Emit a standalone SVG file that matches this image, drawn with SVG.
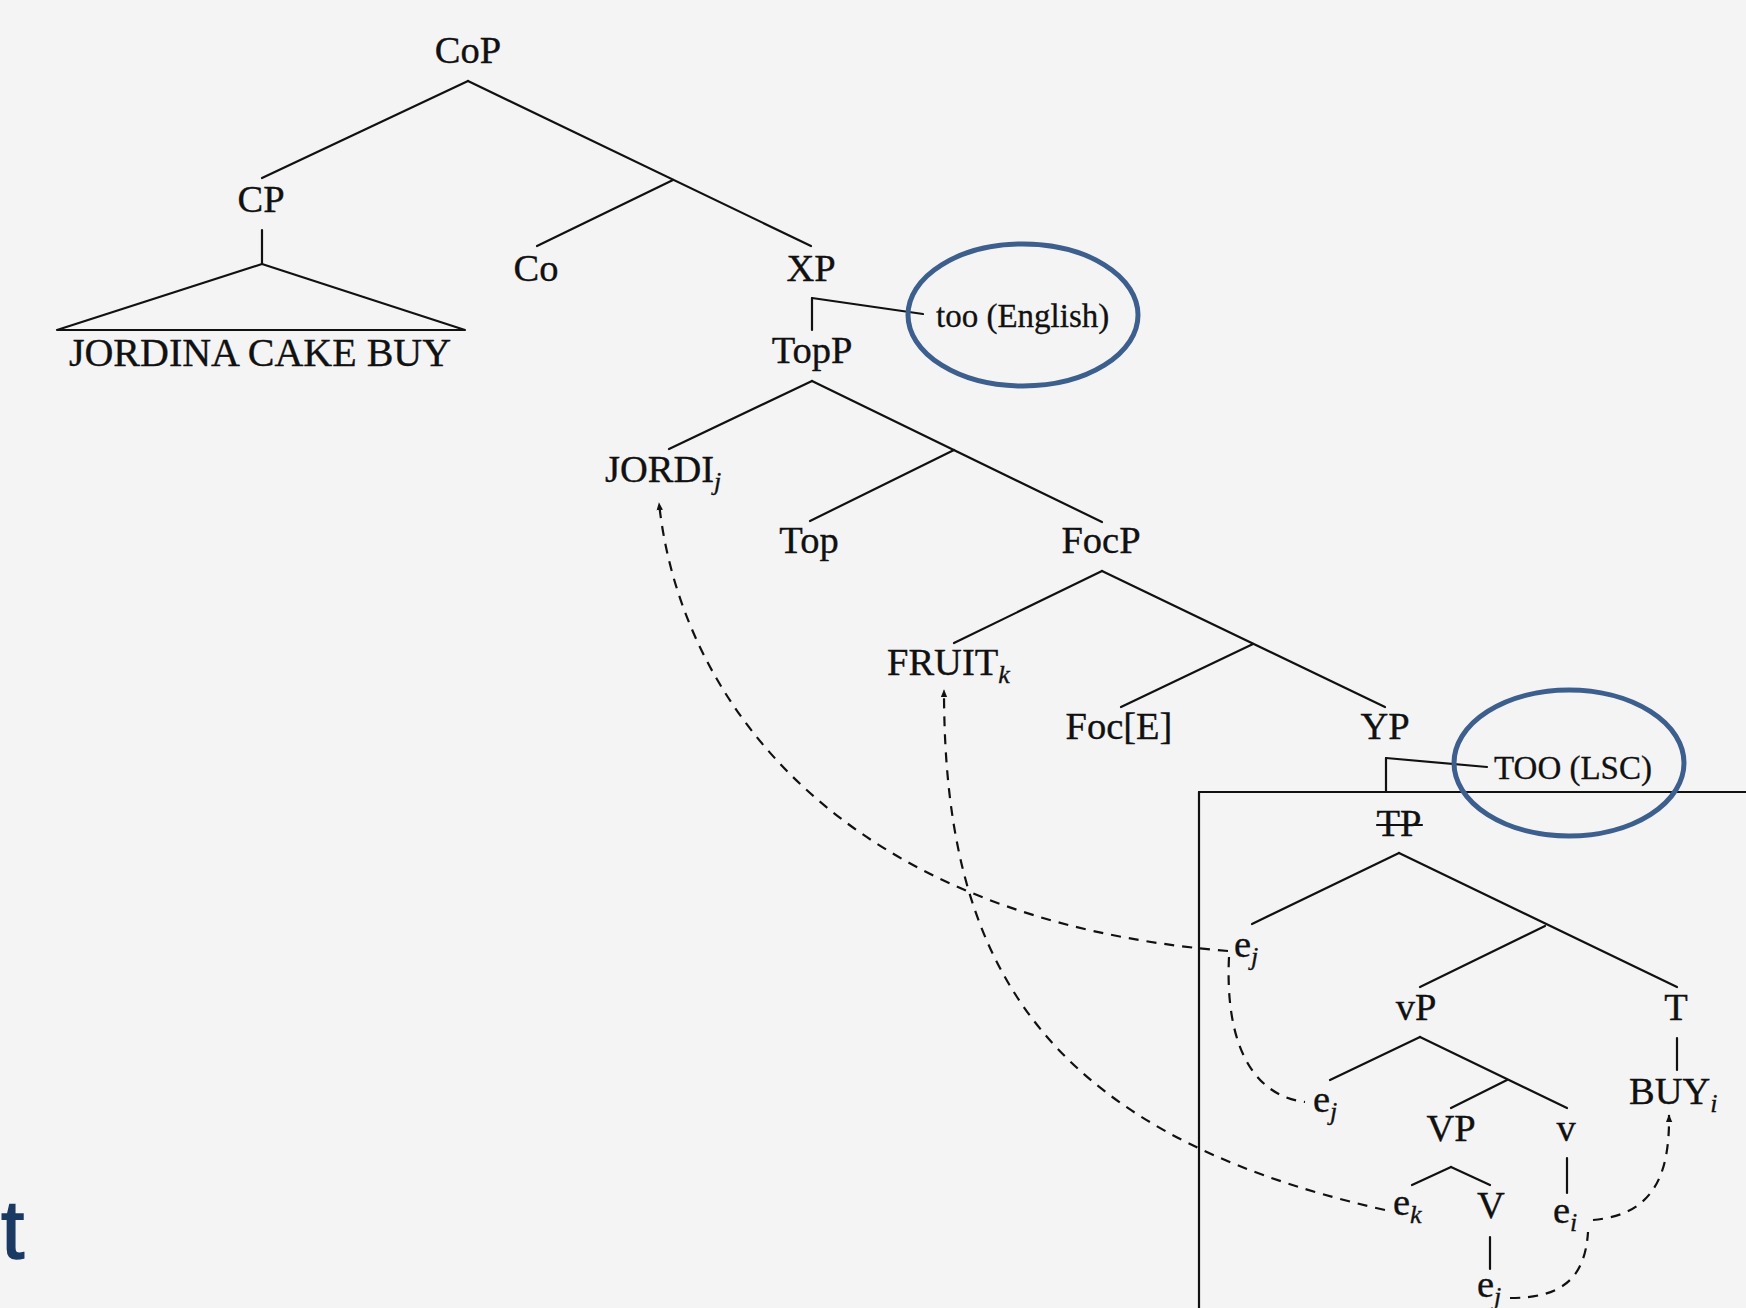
<svg xmlns="http://www.w3.org/2000/svg" width="1746" height="1308" viewBox="0 0 1746 1308">
<defs>
<style>
.t{font-family:"Liberation Serif","Times New Roman",serif;font-size:38.5px;fill:#111;stroke:#111;stroke-width:0.35;}
.m{text-anchor:middle;}
.a{font-family:"Liberation Serif","Times New Roman",serif;font-size:33px;fill:#111;stroke:#111;stroke-width:0.3;}
.s{font-style:italic;font-size:26px;}
.ln{stroke:#111;stroke-width:2.2;fill:none;stroke-linecap:round;}
.ds{stroke:#111;stroke-width:2.2;fill:none;stroke-dasharray:10 8;}
.ring{stroke:#3c5f8e;stroke-width:5;fill:none;}
</style>
<marker id="ah" viewBox="0 0 10 10" refX="9" refY="5" markerWidth="8" markerHeight="8" markerUnits="userSpaceOnUse" orient="auto">
<path d="M0,1 L10,5 L0,9 z" fill="#111"/>
</marker>
</defs>
<rect width="1746" height="1308" fill="#f4f4f4"/>

<g id="connectors">
<line class="ln" x1="468" y1="81" x2="262" y2="178"/>
<line class="ln" x1="468" y1="81" x2="811" y2="246"/>
<line class="ln" x1="673" y1="180" x2="537" y2="246"/>
<line class="ln" x1="262" y1="230" x2="262" y2="264"/>
<path class="ln" d="M262 264 L57 330 L465 330 Z" stroke-linejoin="round"/>
<line class="ln" x1="812" y1="298" x2="812" y2="330"/>
<line class="ln" x1="812" y1="298" x2="923" y2="314"/>
<line class="ln" x1="812" y1="381" x2="669" y2="449"/>
<line class="ln" x1="812" y1="381" x2="1102" y2="522"/>
<line class="ln" x1="954" y1="450" x2="810" y2="521"/>
<line class="ln" x1="1102" y1="571" x2="954" y2="643"/>
<line class="ln" x1="1102" y1="571" x2="1385" y2="707"/>
<line class="ln" x1="1253" y1="644" x2="1121" y2="707"/>
<line class="ln" x1="1386" y1="758" x2="1386" y2="792"/>
<line class="ln" x1="1386" y1="758" x2="1487" y2="767"/>
<line class="ln" x1="1199" y1="792" x2="1746" y2="792"/>
<line class="ln" x1="1199" y1="792" x2="1199" y2="1308"/>
<line class="ln" x1="1399" y1="853" x2="1252" y2="924"/>
<line class="ln" x1="1399" y1="853" x2="1677" y2="987"/>
<line class="ln" x1="1545" y1="926" x2="1420" y2="987"/>
<line class="ln" x1="1677" y1="1038" x2="1677" y2="1070"/>
<line class="ln" x1="1420" y1="1037" x2="1330" y2="1080"/>
<line class="ln" x1="1420" y1="1037" x2="1567" y2="1108"/>
<line class="ln" x1="1507" y1="1080" x2="1451" y2="1108"/>
<line class="ln" x1="1567" y1="1158" x2="1567" y2="1193"/>
<line class="ln" x1="1451" y1="1167" x2="1412" y2="1185"/>
<line class="ln" x1="1451" y1="1167" x2="1490" y2="1185"/>
<line class="ln" x1="1490" y1="1237" x2="1490" y2="1269"/>
<path class="ds" d="M1228 951 C840 920 680 700 659 503" marker-end="url(#ah)"/>
<path class="ds" d="M1229 957 C1225 1040 1250 1095 1305 1102"/>
<path class="ds" d="M1385 1210 C1030 1130 944 950 944 690" marker-end="url(#ah)"/>
<path class="ds" d="M1593 1220 C1650 1215 1670 1180 1669 1115" marker-end="url(#ah)"/>
<path class="ds" d="M1510 1298 C1560 1298 1585 1280 1588 1232"/>
</g>

<g id="CoP"><text class="t m" x="468" y="63">CoP</text></g>
<g id="CP"><text class="t m" x="261" y="212">CP</text></g>
<g id="Co"><text class="t m" x="536" y="281">Co</text></g>
<g id="XP"><text class="t m" x="811" y="281">XP</text></g>
<g id="JORDINA"><text class="t m" x="260" y="366" style="font-size:40px">JORDINA CAKE BUY</text></g>
<g id="TopP"><text class="t m" x="812" y="363">TopP</text></g>
<g id="tooEnglish"><text class="a" x="936" y="327">too (English)</text></g>
<g id="JORDI"><text class="t" x="605" y="482">JORDI<tspan class="s" dy="8">j</tspan></text></g>
<g id="Top"><text class="t m" x="809" y="553">Top</text></g>
<g id="FocP"><text class="t m" x="1101" y="553">FocP</text></g>
<g id="FRUIT"><text class="t" x="887" y="675">FRUIT<tspan class="s" dy="8">k</tspan></text></g>
<g id="FocE"><text class="t m" x="1119" y="739">Foc[E]</text></g>
<g id="YP"><text class="t m" x="1385" y="739">YP</text></g>
<g id="TOOLSC"><text class="a" x="1494" y="779">TOO (LSC)</text></g>
<g id="TP"><text class="t m" x="1399" y="836">TP</text><line class="ln" x1="1377" y1="825" x2="1422" y2="825"/></g>
<g id="ej1"><text class="t" x="1234" y="957">e<tspan class="s" dy="8">j</tspan></text></g>
<g id="vP"><text class="t m" x="1416" y="1020">vP</text></g>
<g id="T"><text class="t m" x="1676" y="1020">T</text></g>
<g id="BUY"><text class="t" x="1629" y="1104">BUY<tspan class="s" dy="8">i</tspan></text></g>
<g id="ej2"><text class="t" x="1313" y="1112">e<tspan class="s" dy="8">j</tspan></text></g>
<g id="VP"><text class="t m" x="1451" y="1141">VP</text></g>
<g id="v"><text class="t m" x="1566" y="1141">v</text></g>
<g id="ek"><text class="t" x="1393" y="1215">e<tspan class="s" dy="8">k</tspan></text></g>
<g id="V"><text class="t m" x="1491" y="1218">V</text></g>
<g id="ei"><text class="t" x="1553" y="1223">e<tspan class="s" dy="8">i</tspan></text></g>
<g id="ej3"><text class="t" x="1477" y="1297">e<tspan class="s" dy="8">j</tspan></text></g>

<g id="rings">
<ellipse class="ring" cx="1023" cy="315" rx="115" ry="71"/>
<ellipse class="ring" cx="1569" cy="763" rx="115" ry="73"/>
</g>
<g id="corner"><text x="1" y="1258" style="font-family:'Liberation Sans',Arial,sans-serif;font-size:84px;fill:#1b3a63;stroke:#1b3a63;stroke-width:1.5;">t</text></g>
</svg>
